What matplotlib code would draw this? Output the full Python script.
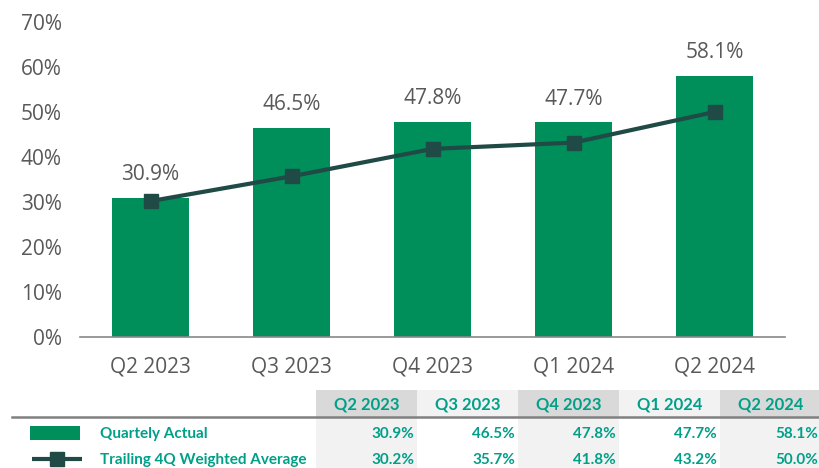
import matplotlib
matplotlib.use("Agg")
import matplotlib.pyplot as plt
from matplotlib.patches import Rectangle
from matplotlib.ticker import PercentFormatter
from matplotlib import font_manager

quarters = ["Q2 2023", "Q3 2023", "Q4 2023", "Q1 2024", "Q2 2024"]
actual = [30.9, 46.5, 47.8, 47.7, 58.1]
trailing = [30.2, 35.7, 41.8, 43.2, 50.0]
series_names = ["Quartely Actual", "Trailing 4Q Weighted Average"]
yticks = [0, 10, 20, 30, 40, 50, 60, 70]

bar_color = "#008f5a"
line_color = "#1f4a45"
gray_text = "#595959"
teal = "#00a088"

names = {f.name for f in font_manager.fontManager.ttflist}
narrow = "Lato"
for cand in ["Liberation Sans Narrow", "DejaVu Sans Condensed", "Lato"]:
    if cand in names:
        narrow = cand
        break
plt.rcParams["font.family"] = ["Open Sans", "DejaVu Sans"]

W, H = 819, 468
fig = plt.figure(figsize=(W / 100, H / 100), dpi=100)

# main chart
ax = fig.add_axes([80 / W, 1 - 337 / H, 705 / W, 315 / H])
x = range(len(quarters))
ax.bar(x, actual, width=0.54, color=bar_color, zorder=2)
ax.plot(x, trailing, color=line_color, lw=3, marker="s", ms=10, zorder=3)
for xi, v in zip(x, actual):
    ax.annotate(f"{v:.1f}%", (xi, v), xytext=(0, 9), textcoords="offset points",
                ha="center", va="bottom", fontsize=15, color=gray_text)
ax.set_xlim(-0.5, len(quarters) - 0.5)
ax.set_ylim(0, 70)
ax.set_yticks(yticks)
ax.yaxis.set_major_formatter(PercentFormatter(decimals=0))
ax.set_xticks(list(x))
ax.set_xticklabels(quarters)
ax.tick_params(axis="both", length=0, labelsize=15, colors=gray_text)
ax.tick_params(axis="x", pad=14)
ax.tick_params(axis="y", pad=13)
for s in ["top", "right", "left"]:
    ax.spines[s].set_visible(False)
ax.spines["bottom"].set_color("#888888")
ax.spines["bottom"].set_linewidth(1.2)

# data table below chart, pixel coordinates
tx = fig.add_axes([0, 0, 1, 1])
tx.set_xlim(0, W)
tx.set_ylim(H, 0)
tx.axis("off")
col_left = 316
col_w = 101
hdr_top, hdr_bot = 390, 417
row_bot = 468
for i, q in enumerate(quarters):
    left = col_left + i * col_w
    hdr_c = "#d9d9d9" if i % 2 == 0 else "#f2f2f2"
    body_c = "#f2f2f2" if i % 2 == 0 else "#ffffff"
    tx.add_patch(Rectangle((left, hdr_top), col_w, hdr_bot - hdr_top, color=hdr_c, lw=0))
    tx.add_patch(Rectangle((left, hdr_bot), col_w, row_bot - hdr_bot, color=body_c, lw=0))
    tx.text(left + col_w / 2, 404, q, ha="center", va="center", fontsize=12,
            fontweight="bold", color=teal, family=narrow)
    tx.text(left + col_w - 3, 434, f"{actual[i]:.1f}%", ha="right", va="center",
            fontsize=11, fontweight="bold", color=teal, family=narrow)
    tx.text(left + col_w - 3, 460, f"{trailing[i]:.1f}%", ha="right", va="center",
            fontsize=11, fontweight="bold", color=teal, family=narrow)
tx.plot([12, W], [416.5, 416.5], color="#808080", lw=1.8)

# legend keys inside table
tx.add_patch(Rectangle((30, 426), 50, 14, color=bar_color, lw=0))
tx.plot([32, 82], [459, 459], color=line_color, lw=3, solid_capstyle="butt")
tx.plot([57], [459], color=line_color, marker="s", ms=10)
tx.text(100, 434, series_names[0], ha="left", va="center", fontsize=11,
        fontweight="bold", color=teal, family=narrow)
tx.text(100, 460, series_names[1], ha="left", va="center", fontsize=11,
        fontweight="bold", color=teal, family=narrow)

fig.savefig("out.png", dpi=100)
